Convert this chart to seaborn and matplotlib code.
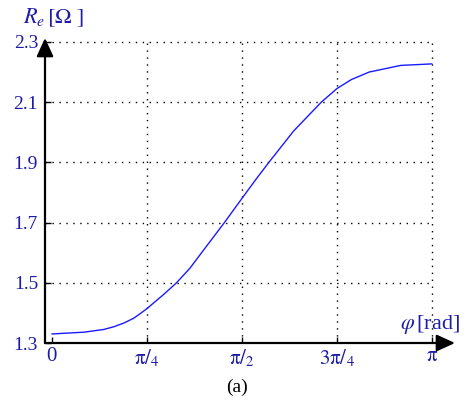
import matplotlib
matplotlib.use('Agg')
import matplotlib.pyplot as plt
import seaborn as sns
import numpy as np
import pandas as pd

# phase angle in units of pi, and measured resistance
phi_frac = [0.0, 0.085, 0.137, 0.163, 0.189, 0.215, 0.233, 0.25, 0.293, 0.328,
            0.363, 0.397, 0.454, 0.5, 0.536, 0.571, 0.636, 0.709, 0.75, 0.788,
            0.835, 0.918, 1.0]
re_ohm = [1.330, 1.336, 1.345, 1.354, 1.366, 1.382, 1.398, 1.414, 1.46, 1.5,
          1.548, 1.605, 1.7, 1.78, 1.842, 1.9, 2.004, 2.1, 2.145, 2.175,
          2.2, 2.222, 2.227]

x_ticks_frac = [0, 0.25, 0.5, 0.75, 1.0]
x_tick_labels = ["0", r"$\mathrm{\pi}/_{4}$", r"$\mathrm{\pi}/_{2}$",
                 r"$3\mathrm{\pi}/_{4}$", r"$\mathrm{\pi}$"]
y_ticks = [1.3, 1.5, 1.7, 1.9, 2.1, 2.3]
y_tick_labels = ["1.3", "1.5", "1.7", "1.9", "2.1", "2.3"]

sns.set_style("white")
plt.rcParams['font.family'] = ['Liberation Serif', 'DejaVu Serif']
plt.rcParams['mathtext.fontset'] = 'stix'

label_blue = "#1c1ca8"

df = pd.DataFrame({"phi": np.array(phi_frac) * np.pi, "Re": re_ohm})

W, H = 467, 407
fig = plt.figure(figsize=(W / 100, H / 100), dpi=100)
ax = fig.add_axes([45 / W, (H - 343) / H, 410 / W, 305 / H])

xmin = -0.018 * np.pi
xmax = 1.0606 * np.pi
ax.set_xlim(xmin, xmax)
ax.set_ylim(1.3, 2.313)

# dotted grid bounded by [0, pi] x [1.3, 2.3]
for xt in x_ticks_frac[1:]:
    ax.vlines(xt * np.pi, 1.3, 2.3, colors="black", linestyles=(0, (1, 4)), linewidth=1.0)
for yt in y_ticks[1:]:
    ax.hlines(yt, xmin, np.pi, colors="black", linestyles=(0, (1, 4)), linewidth=1.0)

sns.lineplot(data=df, x="phi", y="Re", ax=ax, color="#1a1aff", linewidth=1.0)

for s in ax.spines.values():
    s.set_visible(False)

# axes with arrowheads
arrow = dict(arrowstyle="-|>,head_length=0.7,head_width=0.32", color="black", lw=1.6,
             mutation_scale=16, shrinkA=0, shrinkB=0)
ax.annotate("", xy=(1, 0), xytext=(0, 0), xycoords="axes fraction", arrowprops=arrow)
ax.annotate("", xy=(0, 1), xytext=(0, 0), xycoords="axes fraction", arrowprops=arrow)

ax.set_xticks([f * np.pi for f in x_ticks_frac])
ax.set_xticklabels(x_tick_labels)
ax.set_yticks(y_ticks)
ax.set_yticklabels(y_tick_labels)
ax.tick_params(axis="both", direction="in", length=4, width=1, color="black",
               labelcolor=label_blue, labelsize=14, pad=5)
ax.tick_params(axis="x", bottom=True, pad=3, labelsize=15)
ax.tick_params(axis="y", left=True)
ax.set_xlabel("")
ax.set_ylabel("")

fig.text(23 / W, 1 - 18 / H, r"$R_e\,[\Omega\ ]$", color=label_blue, fontsize=16,
         ha="left", va="center")
fig.text(400 / W, 1 - 324 / H, r"$\varphi\,$[rad]", color=label_blue, fontsize=16,
         ha="left", va="center")
fig.text(237 / W, 1 - 387 / H, "(a)", color="black", fontsize=14,
         ha="center", va="center")

fig.savefig("out.png", dpi=100)
plt.close(fig)
